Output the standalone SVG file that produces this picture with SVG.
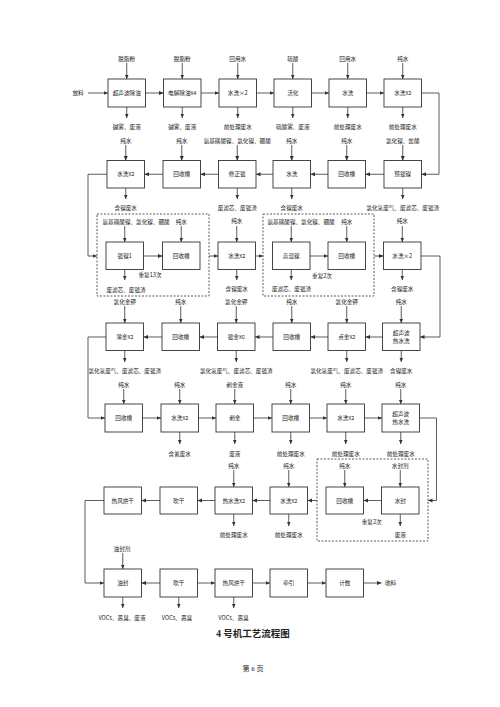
<svg xmlns="http://www.w3.org/2000/svg" width="500" height="707" viewBox="0 0 500 707">
<style>
.b{fill:#fff;stroke:#333;stroke-width:0.9}
.l{fill:none;stroke:#333;stroke-width:0.8}
.d{fill:none;stroke:#333;stroke-width:0.8;stroke-dasharray:2,1.5}
text{font-family:"Noto Sans CJK SC","Liberation Sans",sans-serif;font-size:5.6px;fill:#222;text-anchor:middle;dominant-baseline:central}
.s{text-anchor:start}
.ti{font-family:"Liberation Serif","Noto Sans CJK SC",serif;font-size:9.5px;font-weight:bold}
.pg{font-family:"Liberation Serif","Noto Sans CJK SC",serif;font-size:7px}
</style>
<defs>
<marker id="a" markerWidth="5" markerHeight="5" refX="4.5" refY="2.5" orient="auto" markerUnits="userSpaceOnUse"><path d="M0,0.5 L4.5,2.5 L0,4.5 z" fill="#333"/></marker>
</defs>
<rect width="500" height="707" fill="#fff"/>

<!-- Row 1 -->
<g id="n1"><rect class="b" x="108" y="79" width="37.5" height="28"/><text x="126.75" y="93">超声波除油</text></g>
<g id="n2"><rect class="b" x="163.5" y="79" width="37.5" height="28"/><text x="182.25" y="93">电解除油x4</text></g>
<g id="n3"><rect class="b" x="219" y="79" width="37.5" height="28"/><text x="237.75" y="93">水洗×2</text></g>
<g id="n4"><rect class="b" x="274" y="79" width="37.5" height="28"/><text x="292.75" y="93">活化</text></g>
<g id="n5"><rect class="b" x="329" y="79" width="37.5" height="28"/><text x="347.75" y="93">水洗</text></g>
<g id="n6"><rect class="b" x="384" y="79" width="37.5" height="28"/><text x="402.75" y="93">水洗x2</text></g>

<!-- Row 2 -->
<g id="m1"><rect class="b" x="107" y="160.5" width="37.5" height="27.5"/><text x="125.75" y="174.25">水洗x2</text></g>
<g id="m2"><rect class="b" x="163" y="160.5" width="37.5" height="27.5"/><text x="181.75" y="174.25">回收槽</text></g>
<g id="m3"><rect class="b" x="218.5" y="160.5" width="37.5" height="27.5"/><text x="237.25" y="174.25">修正镀</text></g>
<g id="m4"><rect class="b" x="273" y="160.5" width="37.5" height="27.5"/><text x="291.75" y="174.25">水洗</text></g>
<g id="m5"><rect class="b" x="328" y="160.5" width="37.5" height="27.5"/><text x="346.75" y="174.25">回收槽</text></g>
<g id="m6"><rect class="b" x="384" y="160.5" width="37.5" height="27.5"/><text x="402.75" y="174.25">预镀镍</text></g>

<!-- Row 3 -->
<g id="grp1"><rect class="d" x="97" y="214" width="112" height="82"/><text class="s" x="102.5" y="222">氨基磺酸镍、氯化镍、硼酸</text><text x="181.25" y="222">纯水</text><text x="150" y="275">重复13次</text></g>
<g id="k1"><rect class="b" x="106" y="242" width="37.5" height="27.5"/><text x="124.75" y="255.75">镀镍1</text></g>
<g id="k2"><rect class="b" x="162.5" y="242" width="37.5" height="27.5"/><text x="181.25" y="255.75">回收槽</text></g>
<g id="k3"><rect class="b" x="218" y="242" width="37.5" height="27.5"/><text x="236.75" y="255.75">水洗x2</text></g>
<g id="grp2"><rect class="d" x="263" y="214" width="111" height="82"/><text class="s" x="267.5" y="222">氨基磺酸镍、氯化镍、硼酸</text><text x="346.75" y="222">纯水</text><text x="322" y="276">重复2次</text></g>
<g id="k4"><rect class="b" x="272.5" y="242" width="37.5" height="27.5"/><text x="291.25" y="255.75">高温镍</text></g>
<g id="k5"><rect class="b" x="328" y="242" width="37.5" height="27.5"/><text x="346.75" y="255.75">回收槽</text></g>
<g id="k6"><rect class="b" x="383.5" y="242" width="37.5" height="27.5"/><text x="402.25" y="255.75">水洗×2</text></g>

<!-- Row 4 -->
<g id="p1"><rect class="b" x="106" y="323" width="37.5" height="27.5"/><text x="124.75" y="336.75">薄金x2</text></g>
<g id="p2"><rect class="b" x="162" y="323" width="37.5" height="27.5"/><text x="180.75" y="336.75">回收槽</text></g>
<g id="p3"><rect class="b" x="217.5" y="323" width="37.5" height="27.5"/><text x="236.25" y="336.75">镀金x6</text></g>
<g id="p4"><rect class="b" x="273" y="323" width="37.5" height="27.5"/><text x="291.75" y="336.75">回收槽</text></g>
<g id="p5"><rect class="b" x="328" y="323" width="37.5" height="27.5"/><text x="346.75" y="336.75">点金x2</text></g>
<g id="p6"><rect class="b" x="382.5" y="323" width="37.5" height="27.5"/><text x="401.25" y="332.5">超声波</text><text x="401.25" y="340.5">热水洗</text></g>

<!-- Row 5 -->
<g id="q1"><rect class="b" x="105" y="404" width="37.5" height="28"/><text x="123.75" y="418">回收槽</text></g>
<g id="q2"><rect class="b" x="161" y="404" width="37.5" height="28"/><text x="179.75" y="418">水洗x2</text></g>
<g id="q3"><rect class="b" x="216" y="404" width="37.5" height="28"/><text x="234.75" y="418">剥金</text></g>
<g id="q4"><rect class="b" x="272" y="404" width="37.5" height="28"/><text x="290.75" y="418">回收槽</text></g>
<g id="q5"><rect class="b" x="327" y="404" width="37.5" height="28"/><text x="345.75" y="418">水洗x2</text></g>
<g id="q6"><rect class="b" x="382" y="404" width="37.5" height="28"/><text x="400.75" y="414">超声波</text><text x="400.75" y="422">热水洗</text></g>

<!-- Row 6 -->
<g id="r1"><rect class="b" x="104" y="487" width="37.5" height="27"/><text x="122.75" y="500.5">热风烘干</text></g>
<g id="r2"><rect class="b" x="160" y="487" width="37.5" height="27"/><text x="178.75" y="500.5">吹干</text></g>
<g id="r3"><rect class="b" x="215" y="487" width="37.5" height="27"/><text x="233.75" y="500.5">热水洗x2</text></g>
<g id="r4"><rect class="b" x="270" y="487" width="37.5" height="27"/><text x="288.75" y="500.5">水洗x2</text></g>
<g id="grp3"><rect class="d" x="317" y="459" width="111" height="82"/><text x="344.75" y="466">纯水</text><text x="400.25" y="466">水封剂</text><text x="371.7" y="521.7">重复2次</text></g>
<g id="r5"><rect class="b" x="326" y="487" width="37.5" height="27"/><text x="344.75" y="500.5">回收槽</text></g>
<g id="r6"><rect class="b" x="381.5" y="487" width="37.5" height="27"/><text x="400.25" y="500.5">水封</text></g>

<!-- Row 7 -->
<g id="s1"><rect class="b" x="104" y="569" width="37.5" height="28"/><text x="122.75" y="583">油封</text></g>
<g id="s2"><rect class="b" x="160" y="569" width="37.5" height="28"/><text x="178.75" y="583">吹干</text></g>
<g id="s3"><rect class="b" x="215" y="569" width="37.5" height="28"/><text x="233.75" y="583">热风烘干</text></g>
<g id="s4"><rect class="b" x="270" y="569" width="37.5" height="28"/><text x="288.75" y="583">牵引</text></g>
<g id="s5"><rect class="b" x="326" y="569" width="37.5" height="28"/><text x="344.75" y="583">计数</text></g>

<!-- labels -->
<g id="labels">
<text x="78" y="93">放料</text>
<text x="126.75" y="59">脱脂粉</text><text x="182.25" y="59">脱脂粉</text><text x="237.75" y="59">回用水</text><text x="292.75" y="59">硫酸</text><text x="347.75" y="59">回用水</text><text x="402.75" y="59">纯水</text>
<text x="126.75" y="127">碱雾、废液</text><text x="182.25" y="127">碱雾、废液</text><text x="237.75" y="127">前处理废水</text><text x="292.75" y="127">硫酸雾、废液</text><text x="347.75" y="127">前处理废水</text><text x="402.75" y="127">前处理废水</text>
<text x="125.75" y="141">纯水</text><text x="181.75" y="141">纯水</text><text x="237.25" y="141">氨基磺酸镍、氯化镍、硼酸</text><text x="291.75" y="141">纯水</text><text x="346.75" y="141">纯水</text><text x="402.75" y="141">氯化镍、盐酸</text>
<text x="125.75" y="208">含镍废水</text><text x="237.25" y="208">废滤芯、废镀渣</text><text x="291.75" y="208">含镍废水</text><text x="402.75" y="208">氯化氢废气、废滤芯、废镀渣</text>
<text x="236.75" y="221">纯水</text><text x="402.25" y="221">纯水</text>
<text x="126" y="290">废滤芯、废镀渣</text><text x="236.75" y="288.5">含镍废水</text><text x="291.5" y="288.5">废滤芯、废镀渣</text><text x="402.25" y="288.5">含镍废水</text>
<text x="124.75" y="302">氯化金钾</text><text x="180.75" y="302">纯水</text><text x="236.25" y="302">氯化金钾</text><text x="291.75" y="302">纯水</text><text x="346.75" y="302">氯化金钾</text><text x="401.25" y="302">纯水</text>
<text x="124.75" y="371">氯化氢废气、废滤芯、废镀渣</text><text x="236.25" y="371">氯化氢废气、废滤芯、废镀渣</text><text x="346.75" y="371">氯化氢废气、废滤芯、废镀渣</text><text x="401.25" y="371">含镍废水</text>
<text x="123.75" y="385">纯水</text><text x="179.75" y="385">纯水</text><text x="234.75" y="385">剥金液</text><text x="290.75" y="385">纯水</text><text x="345.75" y="385">纯水</text><text x="400.75" y="385">纯水</text>
<text x="179.75" y="454">含氰废水</text><text x="234.75" y="454">废液</text><text x="290.75" y="454">前处理废水</text><text x="345.75" y="454">前处理废水</text><text x="400.75" y="454">前处理废水</text>
<text x="233.75" y="466">纯水</text><text x="288.75" y="466">纯水</text>
<text x="233.75" y="535">前处理废水</text><text x="288.75" y="535">前处理废水</text><text x="400.25" y="535">废液</text>
<text x="122" y="549">油封剂</text>
<text class="s" x="385" y="583">收料</text>
<text x="122" y="618">VOCs、恶臭、废液</text><text x="177" y="618">VOCs、恶臭</text><text x="233.5" y="618">VOCs、恶臭</text>
<text class="ti" x="253" y="634">4 号机工艺流程图</text>
<text class="pg" x="253" y="669">第 6 页</text>
</g>

<!-- connectors -->
<g id="connectors" class="l" marker-end="url(#a)">
<!-- row1 inputs/outputs -->
<path d="M88,93H108"/>
<path d="M126.75,63V79"/><path d="M182.25,63V79"/><path d="M237.75,63V79"/><path d="M292.75,63V79"/><path d="M347.75,63V79"/><path d="M402.75,63V79"/>
<path d="M126.75,107V118"/><path d="M182.25,107V118"/><path d="M237.75,107V118"/><path d="M292.75,107V118"/><path d="M347.75,107V118"/><path d="M402.75,107V118"/>
<path d="M145.5,93H163.5"/><path d="M201,93H219"/><path d="M256.5,93H274"/><path d="M311.5,93H329"/><path d="M366.5,93H384"/>
<path d="M421.5,93H439V174.25H421.5"/>
<!-- row2 -->
<path d="M125.75,145V160.5"/><path d="M181.75,145V160.5"/><path d="M237.25,145V160.5"/><path d="M291.75,145V160.5"/><path d="M346.75,145V160.5"/><path d="M402.75,145V160.5"/>
<path d="M125.75,188V199"/><path d="M237.25,188V199"/><path d="M291.75,188V199"/><path d="M402.75,188V199"/>
<path d="M384,174.25H365.5"/><path d="M328,174.25H310.5"/><path d="M273,174.25H256"/><path d="M218.5,174.25H200.5"/><path d="M163,174.25H144.5"/>
<path d="M107,174.25H88V256H97"/>
<!-- row3 -->
<path d="M124.75,226V242"/><path d="M181.25,226V242"/><path d="M236.75,226V242"/><path d="M291.25,226V242"/><path d="M346.75,226V242"/><path d="M402.25,226V242"/>
<path d="M124.75,269.5V280"/><path d="M236.75,269.5V280"/><path d="M291.25,269.5V280"/><path d="M402.25,269.5V280"/>
<path d="M143.5,256H162.5"/><path d="M209,256H218"/><path d="M255.5,256H263"/><path d="M310,256H328"/><path d="M374,256H383.5"/>
<path d="M421,256H440V337H420"/>
<!-- row4 -->
<path d="M124.75,306V323"/><path d="M180.75,306V323"/><path d="M236.25,306V323"/><path d="M291.75,306V323"/><path d="M346.75,306V323"/><path d="M401.25,306V323"/>
<path d="M124.75,350.5V362"/><path d="M236.25,350.5V362"/><path d="M346.75,350.5V362"/><path d="M401.25,350.5V362"/>
<path d="M382.5,337H365.5"/><path d="M328,337H310.5"/><path d="M273,337H255"/><path d="M217.5,337H199.5"/><path d="M162,337H143.5"/>
<path d="M106,337H88V418H105"/>
<!-- row5 -->
<path d="M123.75,389V404"/><path d="M179.75,389V404"/><path d="M234.75,389V404"/><path d="M290.75,389V404"/><path d="M345.75,389V404"/><path d="M400.75,389V404"/>
<path d="M179.75,432V444"/><path d="M234.75,432V444"/><path d="M290.75,432V444"/><path d="M345.75,432V444"/><path d="M400.75,432V444"/>
<path d="M142.5,418H161"/><path d="M198.5,418H216"/><path d="M253.5,418H272"/><path d="M309.5,418H327"/><path d="M364.5,418H382"/>
<path d="M419.5,418H436.5V500.5H428"/>
<!-- row6 -->
<path d="M233.75,470V487"/><path d="M288.75,470V487"/><path d="M344.75,470V487"/><path d="M400.25,470V487"/>
<path d="M233.75,514V526"/><path d="M288.75,514V526"/><path d="M400.25,514V526"/>
<path d="M381.5,500.5H363.5"/><path d="M317,500.5H307.5"/><path d="M270,500.5H252.5"/><path d="M215,500.5H197.5"/><path d="M160,500.5H141.5"/>
<path d="M104,500.5H85V583H104"/>
<!-- row7 -->
<path d="M122.75,553V569"/>
<path d="M160,583H141.5"/><path d="M197.5,583H215"/><path d="M252.5,583H270"/><path d="M307.5,583H326"/><path d="M363.5,583H381.5"/>
<path d="M122.75,597V608"/><path d="M178.75,597V608"/><path d="M233.75,597V608"/>
</g>
</svg>
